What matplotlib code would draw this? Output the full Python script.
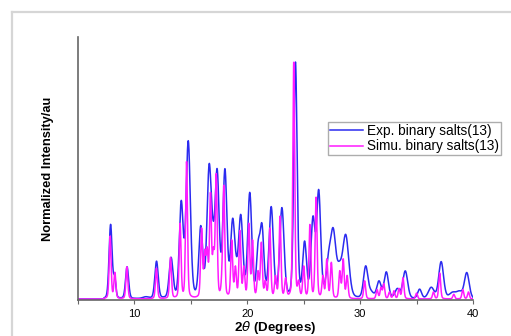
"""PXRD overlay: experimental vs simulated pattern of binary salts (13)."""

import numpy as np
import matplotlib
matplotlib.use("Agg")
import matplotlib.pyplot as plt
from matplotlib.lines import Line2D

# peaks: position (2theta), apparent height (normalised), FWHM (deg)
exp_pos = [7.89, 8.25, 9.35, 11.0, 11.96, 13.25, 14.15, 14.77, 15.88, 16.62, 16.95,
           17.33, 18.02, 18.7, 18.98, 19.42, 20.22, 20.96, 21.3, 22.12, 23.07,
           24.27, 25.08, 25.82, 26.33, 27.2, 27.62, 28.15, 28.72, 30.49, 30.95,
           31.67, 32.32, 33.3, 34.0, 35.27, 36.3, 37.18, 38.2, 38.8, 39.45]
exp_hgt = [0.315, 0.10, 0.136, 0.01, 0.16, 0.176, 0.416, 0.668, 0.31, 0.57, 0.34,
           0.55, 0.55, 0.34, 0.20, 0.357, 0.45, 0.245, 0.32, 0.39, 0.386,
           1.0, 0.245, 0.35, 0.462, 0.20, 0.30, 0.16, 0.273, 0.14, 0.04,
           0.077, 0.115, 0.045, 0.119, 0.042, 0.05, 0.158, 0.03, 0.035, 0.112]
exp_fwhm = [0.32, 0.25, 0.32, 0.6, 0.35, 0.4, 0.4, 0.45, 0.4, 0.45, 0.4,
            0.42, 0.42, 0.42, 0.4, 0.45, 0.42, 0.35, 0.4, 0.45, 0.45,
            0.35, 0.4, 0.42, 0.42, 0.5, 0.55, 0.5, 0.65, 0.45, 0.6,
            0.45, 0.45, 0.5, 0.5, 0.4, 0.6, 0.5, 0.7, 0.6, 0.5]

sim_pos = [7.85, 8.27, 9.33, 11.95, 13.2, 14.05, 14.62, 15.95, 16.24, 16.45,
           16.74, 17.0, 17.25, 17.77, 17.92, 18.62, 18.95, 19.35, 19.7, 20.14,
           20.47, 20.95, 21.25, 21.6, 22.0, 22.5, 22.9, 23.4, 24.12, 24.55,
           25.0, 25.55, 26.1, 26.7, 27.05, 27.45, 28.2, 28.5, 28.85, 30.4,
           31.5, 31.85, 32.1, 32.6, 33.0, 33.45, 33.8, 35.0, 36.5, 37.05,
           38.3, 39.1, 39.6]
sim_hgt = [0.266, 0.113, 0.136, 0.13, 0.176, 0.32, 0.58, 0.30, 0.21, 0.22,
           0.45, 0.22, 0.53, 0.17, 0.48, 0.25, 0.14, 0.29, 0.14, 0.32,
           0.25, 0.12, 0.24, 0.08, 0.30, 0.10, 0.35, 0.09, 1.0, 0.08,
           0.14, 0.315, 0.43, 0.10, 0.17, 0.155, 0.12, 0.17, 0.10, 0.077,
           0.04, 0.05, 0.065, 0.03, 0.035, 0.045, 0.09, 0.025, 0.03, 0.11,
           0.02, 0.04, 0.03]
sim_fwhm = [0.2] * len(sim_pos)

BLUE, MAGENTA = "#2b2bf0", "#ff1aff"
plt.rcParams.update({"font.family": "Liberation Sans", "mathtext.fontset": "dejavusans"})


def profile(x, p, w, eta):
    g = np.exp(-4 * np.log(2) * ((x - p) / w) ** 2)
    lo = 1 / (1 + 4 * ((x - p) / w) ** 2)
    return eta * lo + (1 - eta) * g


def pattern(x, pos, hgt, fwhm, eta):
    # amplitudes such that the summed curve passes through the read heights
    pos, hgt, fwhm = map(np.asarray, (pos, hgt, fwhm))
    A = np.array([[profile(p, q, w, eta) for q, w in zip(pos, fwhm)] for p in pos])
    amp = np.clip(np.linalg.solve(A, hgt), 0, None)
    return sum(a * profile(x, q, w, eta) for a, q, w in zip(amp, pos, fwhm))


x = np.linspace(5, 40, 3500)
y_exp = pattern(x, exp_pos, exp_hgt, exp_fwhm, 0.2)
y_sim = pattern(x, sim_pos, sim_hgt, sim_fwhm, 0.3)
y_exp[x < 7.3] = 0
y_sim[x < 7.3] = 0

fig = plt.figure(figsize=(5.11, 3.36), dpi=100)
ax = fig.add_axes([0.1526, 0.1071, 0.773, 0.7827])
ax.plot(x, y_exp, color=BLUE, lw=1.1, label="Exp. binary salts(13)")
ax.plot(x, y_sim, color=MAGENTA, lw=1.1, label="Simu. binary salts(13)")

ax.set_xlim(5, 40)
ax.set_ylim(-0.004, 1.105)
ax.set_xticks([10, 20, 30, 40])
ax.set_xticks([5, 15, 25, 35], minor=True)
ax.set_yticks([])
ax.tick_params(axis="x", which="both", direction="out", length=3, width=0.8,
               color="#666666", labelsize=8, pad=3.5)
ax.spines[["top", "right"]].set_visible(False)
for s in ("left", "bottom"):
    ax.spines[s].set_color("#666666")
    ax.spines[s].set_linewidth(1.2)
ax.set_xlabel(r"2$\theta$ (Degrees)", fontsize=9.6, fontweight="bold", labelpad=0)
ax.set_ylabel("Normalized Intensity/au", fontsize=9.3, fontweight="bold", labelpad=17)

leg = ax.legend(loc="upper left", bbox_to_anchor=(0.642, 0.637), bbox_transform=fig.transFigure,
                borderaxespad=0, fancybox=False, frameon=True, fontsize=9.8,
                handlelength=2.4, handletextpad=0.3, borderpad=0.15, labelspacing=0.1)
leg.get_frame().set_edgecolor("#999999")
leg.get_frame().set_linewidth(1.0)

# light frame of the source page, cut at the right/bottom edge
fig.add_artist(Line2D([12 / 511, 12 / 511], [0, 1 - 12 / 336], transform=fig.transFigure,
                      color="#d6d6d6", lw=1.6))
fig.add_artist(Line2D([12 / 511, 1], [1 - 12 / 336, 1 - 12 / 336], transform=fig.transFigure,
                      color="#d6d6d6", lw=1.6))

fig.savefig("out.png", dpi=100)
